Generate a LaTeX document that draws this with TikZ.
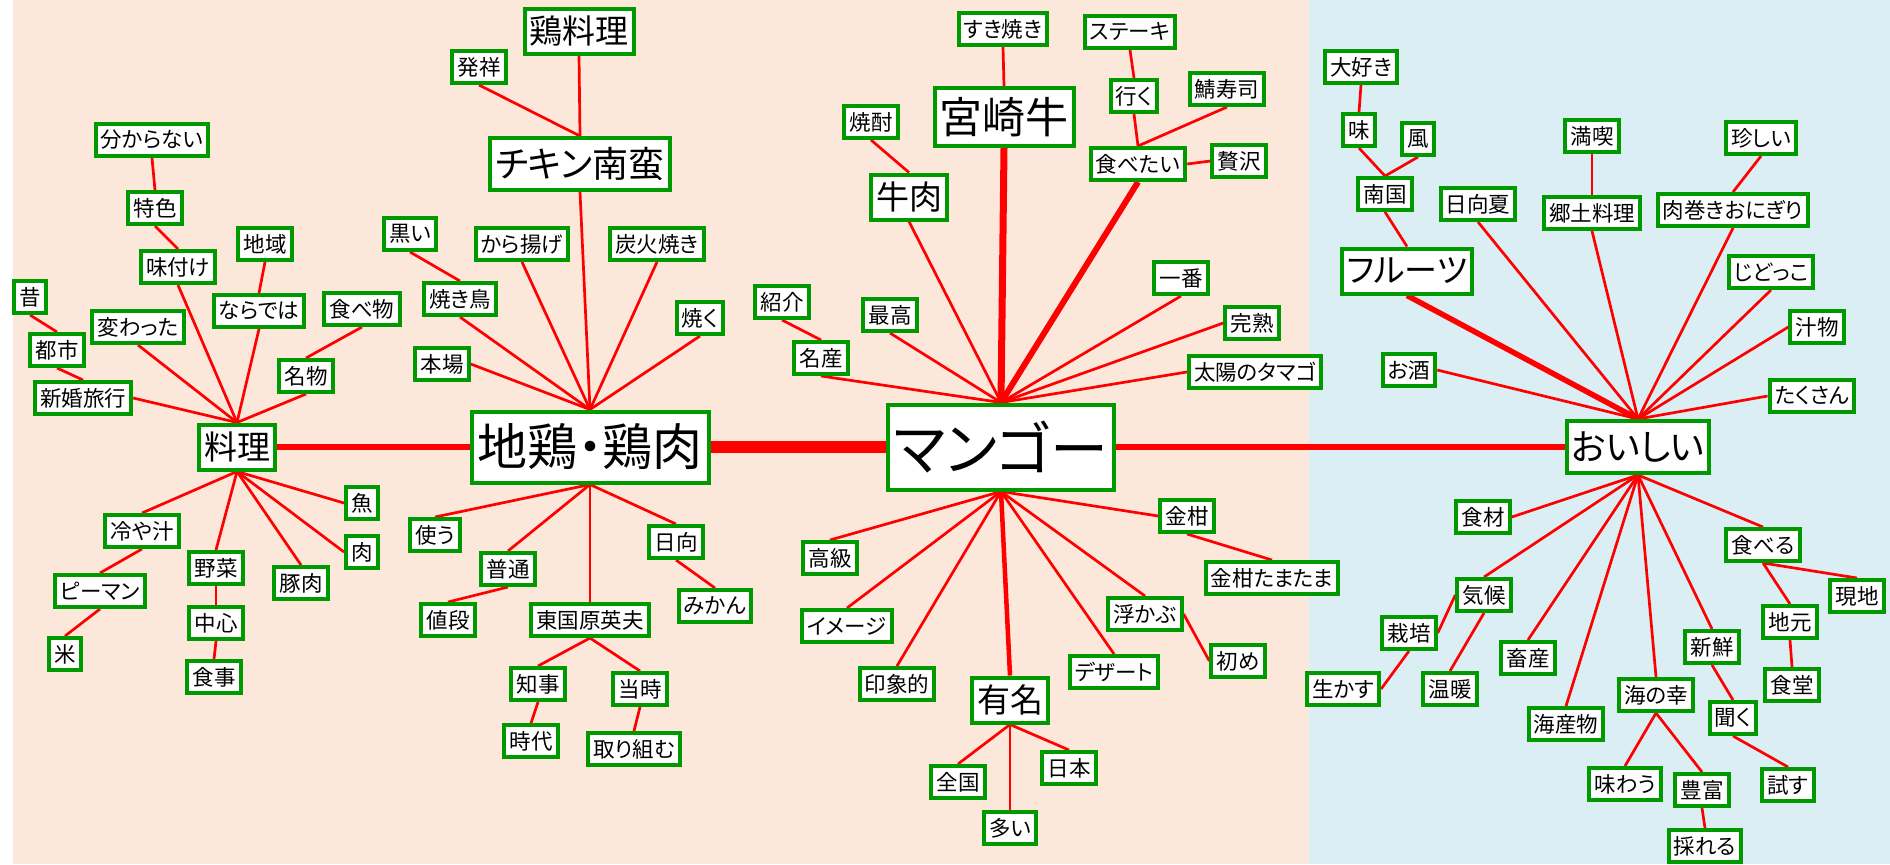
\documentclass[tikz,border=0pt]{standalone}
\usepackage{fontspec}
\setmainfont{Noto Sans CJK JP}[RawFeature={+palt}]
\usepackage{tikz}

\definecolor{peach}{RGB}{252,232,218}
\definecolor{paleblue}{RGB}{218,238,243}
\definecolor{boxgreen}{RGB}{0,153,0}

\pgfdeclarelayer{bg}
\pgfsetlayers{bg,main}

\tikzset{
  word/.style={draw=boxgreen, line width=2pt, fill=white, text=black,
    inner xsep=2.6pt, inner ysep=0pt, minimum height=16pt,
    font=\fontsize{10.75}{13}\selectfont},
  mid/.style={word, inner xsep=2.5pt, minimum height=22.5pt,
    font=\fontsize{16.5}{18}\selectfont},
  large/.style={word, inner xsep=2.5pt, minimum height=26pt,
    font=\fontsize{18}{20}\selectfont},
  huge/.style={word, inner xsep=2.5pt, minimum height=29pt,
    font=\fontsize{21.5}{23}\selectfont},
  hub/.style={word, inner xsep=3pt, minimum height=35.5pt,
    font=\fontsize{25}{27}\selectfont},
  core/.style={word, inner xsep=3pt, minimum height=42.5pt,
    font=\fontsize{29}{31}\selectfont},
  link/.style={red, line width=1.35pt},
}

\begin{document}
\begin{tikzpicture}[x=0.5pt, y=-0.5pt]

  \useasboundingbox (0,0) rectangle (1890,864);

  % 料理
  \node (ryori) at (237,447) [mid] {料理};
  \node (shinkon) at (83,398) [word] {新婚旅行};
  \node (toshi) at (57,350) [word] {都市};
  \node (mukashi) at (30,297) [word] {昔};
  \node (kawatta) at (138,327) [word] {変わった};
  \node (ajitsuke) at (178,267) [word] {味付け};
  \node (tokushoku) at (155,208) [word] {特色};
  \node (wakaranai) at (152,140) [word] {分からない};
  \node (naradewa) at (259,311) [word] {ならでは};
  \node (chiiki) at (265,244) [word] {地域};
  \node (meibutsu) at (306,376) [word] {名物};
  \node (tabemono) at (362,309) [word] {食べ物};
  \node (hiyajiru) at (142,531) [word] {冷や汁};
  \node (piman) at (100,591) [word] {ピーマン};
  \node (kome) at (65,654) [word] {米};
  \node (yasai) at (216,568) [word] {野菜};
  \node (chushin) at (216,623) [word] {中心};
  \node (shokuji) at (214,677) [word] {食事};
  \node (butaniku) at (301,583) [word] {豚肉};
  \node (sakana) at (362,503) [word] {魚};
  \node (niku) at (362,552) [word] {肉};

  % 地鶏・鶏肉
  \node (jidori) at (590,447) [hub] {地鶏・鶏肉};
  \node (honba) at (442,364) [word] {本場};
  \node (yakitori) at (460,299) [word] {焼き鳥};
  \node (kuroi) at (410,234) [word] {黒い};
  \node (karaage) at (522,244) [word] {から揚げ};
  \node (nanban) at (580,164) [large] {チキン南蛮};
  \node (hassho) at (479,67) [word] {発祥};
  \node (toriryori) at (579,31) [mid] {鶏料理};
  \node (sumibi) at (657,244) [word] {炭火焼き};
  \node (yaku) at (700,318) [word] {焼く};
  \node (tsukau) at (435,535) [word] {使う};
  \node (futsu) at (508,569) [word] {普通};
  \node (nedan) at (448,620) [word] {値段};
  \node (higashi) at (590,620) [word] {東国原英夫};
  \node (chiji) at (538,684) [word] {知事};
  \node (jidai) at (531,741) [word] {時代};
  \node (toji) at (640,689) [word] {当時};
  \node (torikumu) at (634,749) [word] {取り組む};
  \node (hyuga) at (676,542) [word] {日向};
  \node (mikan) at (715,606) [word] {みかん};

  % マンゴー
  \node (mango) at (1001,447) [core] {マンゴー};
  \node (meisan) at (821,358) [word] {名産};
  \node (shokai) at (782,302) [word] {紹介};
  \node (saiko) at (890,315) [word] {最高};
  \node (gyuniku) at (909,197) [mid] {牛肉};
  \node (shochu) at (871,122) [word] {焼酎};
  \node (miyazaki) at (1004,117) [huge] {宮崎牛};
  \node (sukiyaki) at (1003,29) [word] {すき焼き};
  \node (tabetai) at (1138,164) [word] {食べたい};
  \node (iku) at (1134,96) [word] {行く};
  \node (steak) at (1130,32) [word] {ステーキ};
  \node (sabazushi) at (1227,89) [word] {鯖寿司};
  \node (zeitaku) at (1239,161) [word] {贅沢};
  \node (ichiban) at (1181,278) [word] {一番};
  \node (kanjuku) at (1252,323) [word] {完熟};
  \node (taiyo) at (1255,372) [word] {太陽のタマゴ};
  \node (kokyu) at (830,558) [word] {高級};
  \node (imeji) at (847,626) [word] {イメージ};
  \node (inshoteki) at (897,684) [word] {印象的};
  \node (yumei) at (1010,700) [mid] {有名};
  \node (zenkoku) at (958,782) [word] {全国};
  \node (ooi) at (1010,828) [word] {多い};
  \node (nihon) at (1069,768) [word] {日本};
  \node (dezato) at (1114,672) [word] {デザート};
  \node (ukabu) at (1145,614) [word] {浮かぶ};
  \node (hajime) at (1238,661) [word] {初め};
  \node (kinkan) at (1187,516) [word] {金柑};
  \node (tamatama) at (1272,578) [word] {金柑たまたま};

  % おいしい
  \node (oishii) at (1638,447) [large] {おいしい};
  \node (osake) at (1409,370) [word] {お酒};
  \node (furutsu) at (1407,271) [mid] {フルーツ};
  \node (nangoku) at (1385,194) [word] {南国};
  \node (aji) at (1359,130) [word] {味};
  \node (daisuki) at (1361,67) [word] {大好き};
  \node (kaze) at (1418,139) [word] {風};
  \node (hyuganatsu) at (1478,204) [word] {日向夏};
  \node (kyodo) at (1592,213) [word] {郷土料理};
  \node (mankitsu) at (1592,136) [word] {満喫};
  \node (nikumaki) at (1733,210) [word] {肉巻きおにぎり};
  \node (mezurashii) at (1761,138) [word] {珍しい};
  \node (jidokko) at (1771,272) [word] {じどっこ};
  \node (shirumono) at (1817,327) [word] {汁物};
  \node (takusan) at (1812,396) [word] {たくさん};
  \node (shokuzai) at (1483,517) [word] {食材};
  \node (kiko) at (1484,595) [word] {気候};
  \node (saibai) at (1409,633) [word] {栽培};
  \node (ikasu) at (1343,689) [word] {生かす};
  \node (ondan) at (1450,689) [word] {温暖};
  \node (chikusan) at (1528,658) [word] {畜産};
  \node (kaisan) at (1566,724) [word] {海産物};
  \node (uminosachi) at (1656,695) [word] {海の幸};
  \node (ajiwau) at (1625,784) [word] {味わう};
  \node (hofu) at (1702,790) [word] {豊富};
  \node (toreru) at (1705,846) [word] {採れる};
  \node (shinsen) at (1712,647) [word] {新鮮};
  \node (kiku) at (1733,718) [word] {聞く};
  \node (tamesu) at (1788,785) [word] {試す};
  \node (taberu) at (1763,545) [word] {食べる};
  \node (jimoto) at (1790,622) [word] {地元};
  \node (shokudo) at (1792,685) [word] {食堂};
  \node (genchi) at (1857,596) [word] {現地};

  \begin{pgfonlayer}{bg}
    \fill[peach] (13,0) rectangle (1309,864);
    \fill[paleblue] (1309,0) rectangle (1890,864);

    % spine
    \draw[link, line width=3pt] (ryori.east) -- (jidori.west);
    \draw[link, line width=6.3pt] (jidori.east) -- (mango.west);
    \draw[link, line width=3pt] (mango.east) -- (oishii.west);

    % heavier spokes
    \draw[link, line width=3.5pt] (mango.north) -- (miyazaki.south);
    \draw[link, line width=3pt] (mango.north) -- (tabetai.south);
    \draw[link, line width=2.25pt] (mango.south) -- (yumei.north);
    \draw[link, line width=2.75pt] (oishii.north) -- (furutsu.south);

    \foreach \a/\b in {ryori.north/shinkon.east, ryori.north/kawatta.south,
        ryori.north/ajitsuke.south, ryori.north/naradewa.south,
        ryori.north/meibutsu.south, ryori.south/hiyajiru.north,
        ryori.south/yasai.north, ryori.south/butaniku.north,
        ryori.south/niku.west, ryori.south/sakana.west,
        shinkon.north/toshi.south, toshi.north/mukashi.south,
        ajitsuke.north/tokushoku.south, tokushoku.north/wakaranai.south,
        naradewa.north/chiiki.south, meibutsu.north/tabemono.south,
        hiyajiru.south/piman.north, piman.south/kome.north,
        yasai.south/chushin.north, chushin.south/shokuji.north}
      \draw[link] (\a) -- (\b);

    \foreach \a/\b in {jidori.north/honba.east, jidori.north/yakitori.south,
        jidori.north/karaage.south, jidori.north/nanban.south,
        jidori.north/sumibi.south, jidori.north/yaku.south,
        jidori.south/tsukau.north, jidori.south/futsu.north,
        jidori.south/higashi.north, jidori.south/hyuga.north,
        yakitori.north/kuroi.south, nanban.north/hassho.south,
        nanban.north/toriryori.south, futsu.south/nedan.north,
        higashi.south/chiji.north, higashi.south/toji.north,
        chiji.south/jidai.north, toji.south/torikumu.north,
        hyuga.south/mikan.north}
      \draw[link] (\a) -- (\b);

    \foreach \a/\b in {mango.north/meisan.south, mango.north/saiko.south,
        mango.north/gyuniku.south, mango.north/ichiban.south,
        mango.north/kanjuku.west, mango.north/taiyo.west,
        meisan.north/shokai.south, gyuniku.north/shochu.south,
        miyazaki.north/sukiyaki.south, tabetai.north/iku.south,
        tabetai.north/sabazushi.south, tabetai.east/zeitaku.west,
        iku.north/steak.south,
        mango.south/kokyu.north, mango.south/imeji.north,
        mango.south/inshoteki.north, mango.south/dezato.north,
        mango.south/ukabu.north, mango.south/kinkan.west,
        kinkan.south/tamatama.north, ukabu.east/hajime.west,
        yumei.south/zenkoku.north, yumei.south/ooi.north,
        yumei.south/nihon.north}
      \draw[link] (\a) -- (\b);

    \foreach \a/\b in {oishii.north/osake.east, oishii.north/hyuganatsu.south,
        oishii.north/kyodo.south, oishii.north/nikumaki.south,
        oishii.north/jidokko.south, oishii.north/shirumono.west,
        oishii.north/takusan.west,
        furutsu.north/nangoku.south, nangoku.north/aji.south,
        nangoku.north/kaze.south, aji.north/daisuki.south,
        kyodo.north/mankitsu.south, nikumaki.north/mezurashii.south,
        oishii.south/shokuzai.east, oishii.south/kiko.north,
        oishii.south/chikusan.north, oishii.south/kaisan.north,
        oishii.south/uminosachi.north, oishii.south/shinsen.north,
        oishii.south/taberu.north,
        kiko.west/saibai.east, saibai.south/ikasu.east,
        kiko.south/ondan.north, taberu.south/jimoto.north,
        taberu.south/genchi.north, jimoto.south/shokudo.north,
        shinsen.south/kiku.north, kiku.south/tamesu.north,
        uminosachi.south/ajiwau.north, uminosachi.south/hofu.north,
        hofu.south/toreru.north}
      \draw[link] (\a) -- (\b);
  \end{pgfonlayer}

\end{tikzpicture}
\end{document}
